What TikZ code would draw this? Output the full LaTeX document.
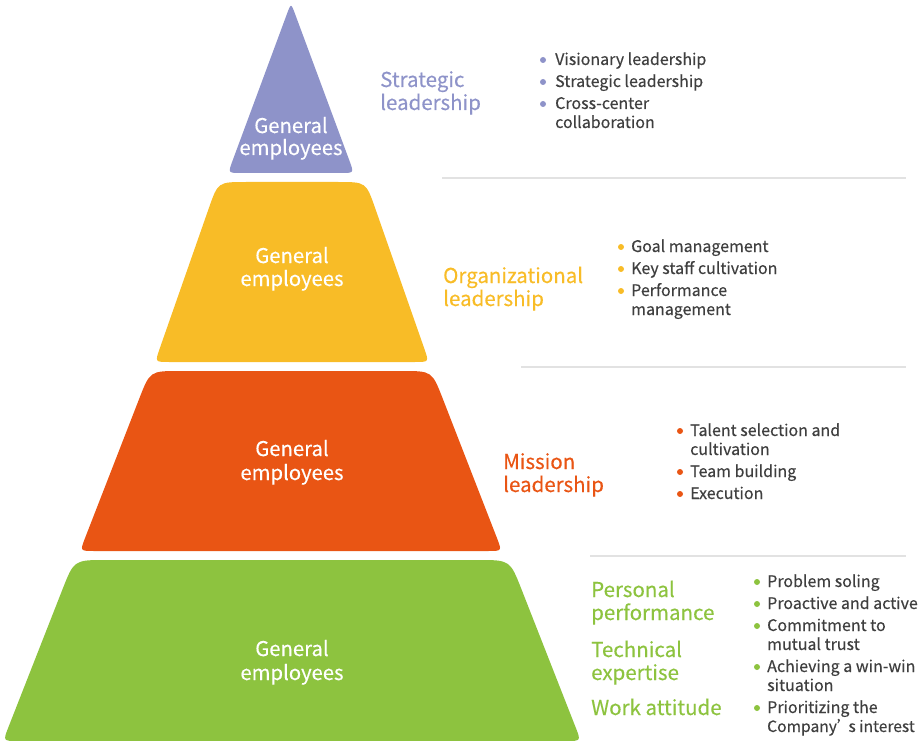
\documentclass[tikz,border=0pt]{standalone}
\usepackage{fontspec}
\setmainfont{Noto Sans CJK SC}[FakeBold=0.35]
\usetikzlibrary{calc}
\definecolor{cpur}{HTML}{8E93C9}
\definecolor{cyel}{HTML}{F8BC27}
\definecolor{cora}{HTML}{E95514}
\definecolor{cgre}{HTML}{8DC33F}
\definecolor{ctxt}{HTML}{3F3F3F}
\definecolor{csep}{HTML}{E2E2E2}
\newcommand{\rtrap}[7]{%
 \fill[#1] ($(#2)!#7!(#5)$) .. controls (#2) .. ($(#2)!#7!(#3)$)
   -- ($(#3)!#6!(#2)$) .. controls (#3) .. ($(#3)!#6!(#4)$)
   -- ($(#4)!#6!(#3)$) .. controls (#4) .. ($(#4)!#6!(#5)$)
   -- ($(#5)!#7!(#4)$) .. controls (#5) .. ($(#5)!#7!(#2)$) -- cycle;}
\tikzset{
 inner/.style={anchor=base, inner sep=0pt, text=white, font=\fontsize{20.3}{23.5}\selectfont},
 item/.style={anchor=base west, inner sep=0pt, text=ctxt, font=\fontsize{16}{19}\selectfont},
 head/.style={anchor=base west, inner sep=0pt, font=\fontsize{20.5}{23}\selectfont},
 sepline/.style={draw=csep, line width=1.5pt},
}
\begin{document}
\begin{tikzpicture}[x=1pt,y=-1pt]
\useasboundingbox (0,0) rectangle (919,741);
% shapes
\coordinate (pA) at (291,3);
\coordinate (pB) at (228,173);
\coordinate (pC) at (354,173);
\fill[cpur] ($(pB)!13pt!(pA)$) .. controls (pB) .. ($(pB)!13pt!(pC)$)
  -- ($(pC)!13pt!(pB)$) .. controls (pC) .. ($(pC)!13pt!(pA)$)
  -- ($(pA)!12pt!(pC)$) .. controls (pA) .. ($(pA)!12pt!(pB)$) -- cycle;
\coordinate (yBL) at (155,362); \coordinate (yTL) at (218,182);
\coordinate (yTR) at (366,182); \coordinate (yBR) at (429,362);
\rtrap{cyel}{yBL}{yTL}{yTR}{yBR}{28pt}{14pt}
\coordinate (oBL) at (80,551); \coordinate (oTL) at (150,371);
\coordinate (oTR) at (432,371); \coordinate (oBR) at (502,551);
\rtrap{cora}{oBL}{oTL}{oTR}{oBR}{30pt}{14pt}
\coordinate (gBL) at (3,741); \coordinate (gTL) at (74,560);
\coordinate (gTR) at (510,560); \coordinate (gBR) at (581,741);
\rtrap{cgre}{gBL}{gTL}{gTR}{gBR}{32pt}{15pt}
% inner texts
\node[inner] (p1) at (291,133) {General};
\node[inner] (p2) at (291,155) {employees};
\node[inner] (y1) at (292,263) {General};
\node[inner] (y2) at (292,286) {employees};
\node[inner] (o1) at (292,456) {General};
\node[inner] (o2) at (292,480) {employees};
\node[inner] (g1) at (292,656) {General};
\node[inner] (g2) at (292,680) {employees};
% separators
\draw[sepline] (442,178) -- (906,178);
\draw[sepline] (521,367) -- (906,367);
\draw[sepline] (590,556) -- (906,556);
% purple
\node[head,text=cpur] (ph1) at (380,87) {Strategic};
\node[head,text=cpur] (ph2) at (380,110) {leadership};
\foreach \yy in {60,82,104} \fill[cpur] (543,\yy) circle (3);
\node[item] (pi1) at (555,65) {Visionary leadership};
\node[item] (pi2) at (555,87) {Strategic leadership};
\node[item] (pi3) at (555,109) {Cross-center};
\node[item] (pi4) at (555,128) {collaboration};
% yellow
\node[head,text=cyel] (yh1) at (443,283) {Organizational};
\node[head,text=cyel] (yh2) at (443,306) {leadership};
\foreach \yy in {247,269,291} \fill[cyel] (621,\yy) circle (3);
\node[item] (yi1) at (631,252) {Goal management};
\node[item] (yi2) at (631,274) {Key staff cultivation};
\node[item] (yi3) at (631,296) {Performance};
\node[item] (yi4) at (631,315) {management};
% orange
\node[head,text=cora] (oh1) at (503,469) {Mission};
\node[head,text=cora] (oh2) at (503,492) {leadership};
\foreach \yy in {431,472,494} \fill[cora] (680,\yy) circle (3);
\node[item] (oi1) at (690,436) {Talent selection and};
\node[item] (oi2) at (690,455) {cultivation};
\node[item] (oi3) at (690,477) {Team building};
\node[item] (oi4) at (690,499) {Execution};
% green
\node[head,text=cgre] (gh1) at (591,597) {Personal};
\node[head,text=cgre] (gh2) at (591,620) {performance};
\node[head,text=cgre] (gh3) at (591,657) {Technical};
\node[head,text=cgre] (gh4) at (591,680) {expertise};
\node[head,text=cgre] (gh5) at (591,715) {Work attitude};
\foreach \yy in {582,604,626,667,708} \fill[cgre] (757,\yy) circle (3);
\node[item] (gi1) at (767,587) {Problem soling};
\node[item] (gi2) at (767,609) {Proactive and active};
\node[item] (gi3) at (767,631) {Commitment to};
\node[item] (gi4) at (767,650) {mutual trust};
\node[item] (gi5) at (767,672) {Achieving a win-win};
\node[item] (gi6) at (767,691) {situation};
\node[item] (gi7) at (767,713) {Prioritizing the};
\node[item,font=\fontsize{15.6}{19}\selectfont] (gi8) at (767,732) {Company’\kern-4pt s interest};
\end{tikzpicture}
\end{document}
